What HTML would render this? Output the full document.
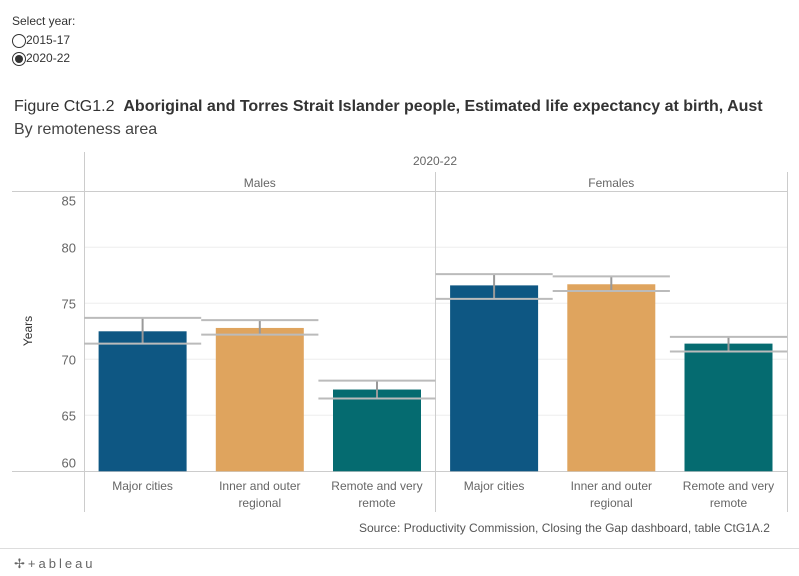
<!DOCTYPE html>
<html><head><meta charset="utf-8"><style>
body{margin:0;width:799px;height:576px;background:#fff;font-family:"Liberation Sans",sans-serif;overflow:hidden;position:relative}
.t{position:absolute;white-space:nowrap}
</style></head><body>
<div class="t" style="left:12px;top:14px;font-size:12px;color:#333">Select year:</div>
<div class="t" style="left:12px;top:33px;font-size:12px;color:#333"><span style="display:inline-block;width:14px;height:14px;border:1px solid #333;border-radius:50%;vertical-align:middle;box-sizing:border-box"></span>2015-17</div>
<div class="t" style="left:12px;top:51px;font-size:12px;color:#333"><span style="display:inline-block;width:14px;height:14px;border:1px solid #333;border-radius:50%;vertical-align:middle;box-sizing:border-box;position:relative"><span style="position:absolute;left:2px;top:2px;width:8px;height:8px;border-radius:50%;background:#333"></span></span>2020-22</div>
<div class="t" style="left:14px;top:98px;font-size:16px;color:#333">Figure CtG1.2 &nbsp;<b style="font-weight:600">Aboriginal and Torres Strait Islander people, Estimated life expectancy at birth, Aust</b></div>
<div class="t" style="left:14px;top:121px;font-size:16px;color:#444">By remoteness area</div>
<svg id="c" width="799" height="576" style="position:absolute;left:0;top:0" font-family="Liberation Sans, sans-serif"></svg>
<div class="t" style="left:359px;top:521px;font-size:12px;color:#555">Source: Productivity Commission, Closing the Gap dashboard, table CtG1A.2</div>
<div class="t" style="left:14px;top:556px;font-size:13px;color:#666;letter-spacing:3px">✢+ableau</div>
<div style="position:absolute;left:0;top:548px;width:799px;height:1px;background:#ddd"></div>
<script>
const categories=["Major cities","Inner and outer regional","Remote and very remote"];
const panels=["Males","Females"];
const males=[72.5,72.8,67.3];
const malesUpper=[73.7,73.5,68.1];
const malesLower=[71.4,72.2,66.5];
const females=[76.6,76.7,71.4];
const femalesUpper=[77.6,77.4,72.0];
const femalesLower=[75.4,76.1,70.7];
const ticks=[60,65,70,75,80,85];
const colors=["#0e5783","#dfa45e","#056b70"];
const svg=document.getElementById('c');
const NS='http://www.w3.org/2000/svg';
function y(v){return 471.3-(v-60)*11.2;}
const px0=84,cellW=117.2,panelW=351.5;
function mk(tag,attrs,name,txt){const e=document.createElementNS(NS,tag);for(const k in attrs)e.setAttribute(k,attrs[k]);


if(txt!==undefined)e.textContent=txt;svg.appendChild(e);return e;}
ticks.forEach((t,i)=>{
 if(t>60&&t<85)mk('line',{x1:84,x2:787,y1:y(t),y2:y(t),stroke:'#eee'},'gridline');
 const off=i==0?-9:(i==ticks.length-1?9:0);
 mk('text',{x:76,y:y(t)+5+off,'text-anchor':'end','font-size':13,fill:'#666'},'y-tick-label',t);
});
mk('line',{x1:12,x2:787,y1:191.5,y2:191.5,stroke:'#ccc'},'top-rule');
mk('line',{x1:12,x2:787,y1:471.5,y2:471.5,stroke:'#ccc'},'x-axis-line');
[84.5,435.5,787.5].forEach((x,i)=>mk('line',{x1:x,x2:x,y1:i==0?152:172,y2:512,stroke:'#ccc'},'panel-divider'));
mk('text',{x:435,y:165,'text-anchor':'middle','font-size':12,fill:'#666'},'year-header','2020-22');
mk('text',{x:32,y:331,'text-anchor':'middle','font-size':12,fill:'#333',transform:'rotate(-90 32 331)'},'y-axis-title','Years');
const data=[[males,malesUpper,malesLower],[females,femalesUpper,femalesLower]];
panels.forEach((p,pi)=>{
 const x0=px0+pi*panelW;
 mk('text',{x:x0+panelW/2,y:187,'text-anchor':'middle','font-size':12,fill:'#666'},'panel-header-'+p.toLowerCase(),p);
 categories.forEach((c,ci)=>{
  const cx=x0+ci*cellW, mid=cx+cellW/2;
  const [v,u,l]=data[pi].map(a=>a[ci]);
  mk('rect',{x:mid-44,y:y(v),width:88,height:y(60)-y(v),fill:colors[ci]},'bar-'+p.toLowerCase()+'-'+ci);
  mk('line',{x1:mid,x2:mid,y1:y(u),y2:y(l),stroke:'#999','stroke-width':2},'error-bar');
  mk('line',{x1:cx,x2:cx+cellW,y1:y(u),y2:y(u),stroke:'#bbb','stroke-width':2},'ci-upper');
  mk('line',{x1:cx,x2:cx+cellW,y1:y(l),y2:y(l),stroke:'#bbb','stroke-width':2},'ci-lower');
  let l1=c,l2='';
  if(ci==1){l1='Inner and outer';l2='regional';} if(ci==2){l1='Remote and very';l2='remote';}
  mk('text',{x:mid,y:490,'text-anchor':'middle','font-size':12,fill:'#666'},'x-tick-label',l1);
  if(l2)mk('text',{x:mid,y:507,'text-anchor':'middle','font-size':12,fill:'#666'},'x-tick-label',l2);
 });
});
</script>
</body></html>
